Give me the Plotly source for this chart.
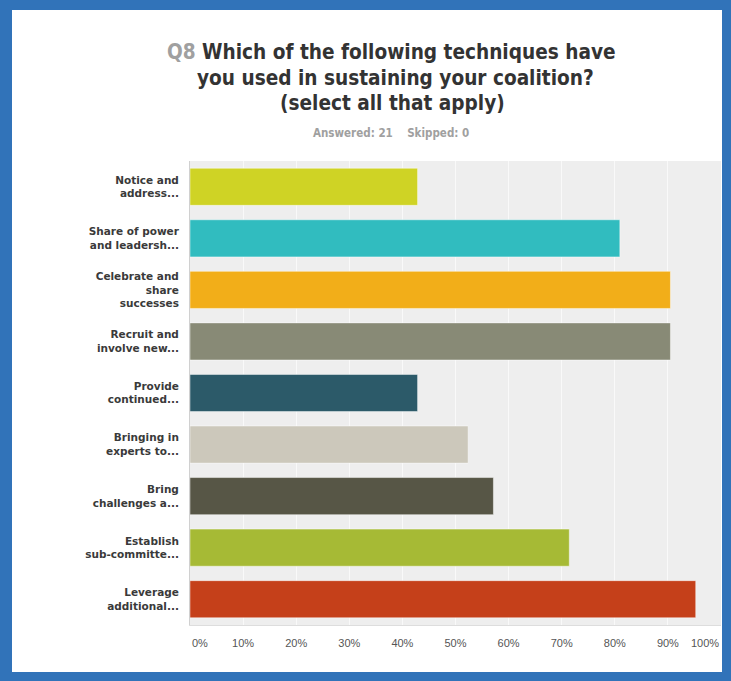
import plotly.graph_objects as go

# Survey responses (percent of 21 respondents)
labels = [
    "Notice and<br>address...",
    "Share of power<br>and leadersh...",
    "Celebrate and<br>share<br>successes",
    "Recruit and<br>involve new...",
    "Provide<br>continued...",
    "Bringing in<br>experts to...",
    "Bring<br>challenges a...",
    "Establish<br>sub-committe...",
    "Leverage<br>additional...",
]
percents = [42.86, 80.95, 90.48, 90.48, 42.86, 52.38, 57.14, 71.43, 95.24]
colors = ["#cfd325", "#31bcbf", "#f2ae19", "#888a76", "#2c5a69",
          "#ccc8bb", "#575646", "#a6ba35", "#c5401a"]
tick_values = [0, 10, 20, 30, 40, 50, 60, 70, 80, 90, 100]
tick_labels = [f"{v}%" for v in tick_values]
title_lines = [
    "<span style='color:#a0a0a0'>Q8</span> Which of the following techniques have",
    "you used in sustaining your coalition?",
    "(select all that apply)",
]
subtitle = "Answered: 21&nbsp;&nbsp;&nbsp;&nbsp;Skipped: 0"

W, H = 731, 681
L, R, T, B = 190, 10, 161, 56
PW, PH = W - L - R, H - T - B


def px_x(px):
    return (px - L) / PW


def px_y(py):
    return (H - B - py) / PH


TITLE_FONT = "DejaVu Sans Condensed, Liberation Sans Narrow, Arial Narrow, sans-serif"
LABEL_FONT = "DejaVu Sans, Verdana, sans-serif"
TICK_FONT = "Liberation Sans, Arial, sans-serif"
BORDER = "#3173b9"

fig = go.Figure(go.Bar(
    x=percents,
    y=labels,
    orientation="h",
    marker=dict(color=colors, line=dict(color="rgba(255,255,255,0.45)", width=1)),
    width=0.72,
    hoverinfo="skip",
))

annotations = []
for line, (cx, cy) in zip(title_lines, [(391, 52), (395, 78), (392, 103)]):
    annotations.append(dict(
        text=f"<b>{line}</b>", x=px_x(cx), y=px_y(cy), xref="paper", yref="paper",
        xanchor="center", yanchor="middle", showarrow=False,
        font=dict(family=TITLE_FONT, size=20.6, color="#333333"),
    ))
annotations.append(dict(
    text=f"<b>{subtitle}</b>",
    x=px_x(391), y=px_y(133), xref="paper", yref="paper",
    xanchor="center", yanchor="middle", showarrow=False,
    font=dict(family=TITLE_FONT, size=11.5, color="#a0a0a0"),
))
# End tick labels are kept inside the plot edges
for val, lab, anchor in [(tick_values[0], tick_labels[0], "left"),
                         (tick_values[-1], tick_labels[-1], "right")]:
    annotations.append(dict(
        text=lab, x=val, y=px_y(643), xref="x", yref="paper",
        xanchor=anchor, yanchor="middle", showarrow=False,
        font=dict(family=TICK_FONT, size=11, color="#555555"),
    ))

# Blue frame around the figure
frame = [
    (0, 0, 12, H),
    (722, 0, W, H),
    (0, 0, W, 10),
    (0, 672, W, H),
]
shapes = [
    dict(type="rect", xref="paper", yref="paper",
         x0=px_x(a), x1=px_x(c), y0=px_y(d), y1=px_y(b),
         fillcolor=BORDER, line=dict(width=0), layer="above")
    for a, b, c, d in frame
]

fig.update_layout(
    width=W, height=H,
    margin=dict(l=L, r=R, t=T, b=B),
    paper_bgcolor="white",
    plot_bgcolor="#eeeeee",
    showlegend=False,
    bargap=0.28,
    annotations=annotations,
    shapes=shapes,
    xaxis=dict(
        range=[0, 100],
        tickvals=tick_values[1:-1],
        ticktext=tick_labels[1:-1],
        showgrid=True, gridcolor="#f9f9f9", gridwidth=1,
        zeroline=False,
        showline=True, linecolor="#dddddd", linewidth=1,
        ticks="", ticklabelstandoff=8,
        tickfont=dict(family=TICK_FONT, size=11, color="#555555"),
        fixedrange=True,
    ),
    yaxis=dict(
        autorange="reversed",
        showgrid=False,
        showline=True, linecolor="#d0d0d0", linewidth=1,
        ticks="", ticklabelstandoff=8,
        tickfont=dict(family=LABEL_FONT, size=10.5, color="#3a3a3a"),
        fixedrange=True,
    ),
)

# Bold category labels
fig.update_yaxes(tickmode="array", tickvals=labels,
                 ticktext=[f"<b>{t.replace('<br>', '</b><br><b>')}</b>" for t in labels])

fig.write_html("out.html")
